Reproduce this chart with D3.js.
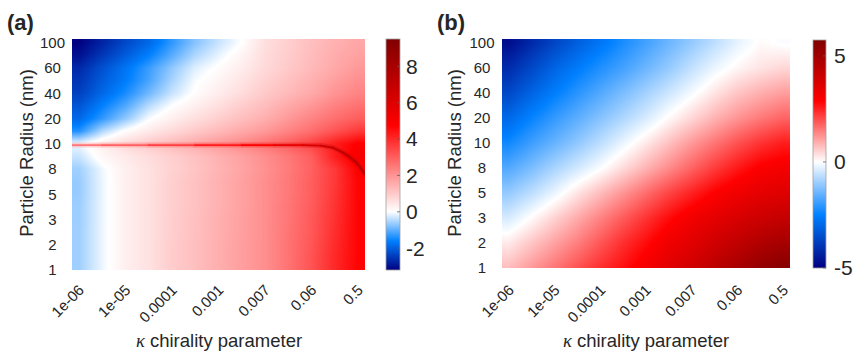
<!DOCTYPE html>
<html lang="en">
<head>
<meta charset="UTF-8">
<title>Chirality maps</title>
<script src="https://d3js.org/d3.v7.min.js"></script>
<style>
  body { margin: 0; background: #fff; }
  svg text { font-family: "Liberation Sans", Arial, sans-serif; fill: #262626; }
</style>
</head>
<body>
<svg id="chart" width="857" height="355"></svg>
<script>
// tick labels
const kappaLabels = ["1e-06", "1e-05", "0.0001", "0.001", "0.007", "0.06", "0.5"];
const radiusLabels = ["1", "2", "3", "5", "8", "10", "20", "40", "60", "100"];

// grid positions, in tick-index units (columns = kappa ticks, rows = radius ticks)
const colSteps = [0, 0.5, 1, 1.5, 2, 2.5, 3, 3.5, 4, 4.5, 5, 5.5, 6];
const rowStepsA = [9, 8.5, 8, 7.5, 7, 6.5, 6, 5.5, 5, 4.5, 4, 3.5, 3, 2.5, 2, 1.5, 1, 0.5, 0];
const rowStepsB = [9, 8, 7, 6, 5, 4, 3, 2, 1, 0];

// panel (a) values, top row (100 nm) first
const heatA = [
  [-3.2, -2.75, -2.3, -1.9, -1.3, -0.75, -0.35, 0.0, 0.6, 0.9, 1.2, 1.45, 1.65],
  [-3.0, -2.5, -2.05, -1.6, -1.05, -0.5, -0.15, 0.2, 0.65, 0.95, 1.25, 1.55, 1.75],
  [-2.7, -2.2, -1.75, -1.25, -0.7, -0.2, 0.05, 0.35, 0.7, 1.0, 1.3, 1.6, 1.9],
  [-2.55, -2.05, -1.65, -1.15, -0.55, -0.05, 0.2, 0.5, 0.85, 1.15, 1.45, 1.8, 2.1],
  [-2.4, -1.9, -1.45, -0.9, -0.35, 0.05, 0.35, 0.65, 1.0, 1.3, 1.6, 2.0, 2.3],
  [-2.15, -1.6, -1.1, -0.45, 0.0, 0.3, 0.6, 0.95, 1.25, 1.6, 1.95, 2.35, 2.65],
  [-1.9, -1.3, -0.7, -0.05, 0.3, 0.6, 0.9, 1.2, 1.5, 1.9, 2.3, 2.7, 3.0],
  [-1.4, -0.5, 0.05, 0.4, 0.7, 1.0, 1.3, 1.6, 1.9, 2.3, 2.7, 3.2, 3.7],
  [-0.1, 0.3, 0.7, 1.0, 1.3, 1.6, 1.9, 2.2, 2.6, 3.0, 3.5, 4.2, 4.8],
  [-0.35, 0.15, 0.4, 0.65, 0.9, 1.15, 1.45, 1.75, 2.1, 2.5, 3.0, 4.2, 5.1],
  [-0.6, -0.1, 0.3, 0.55, 0.85, 1.1, 1.4, 1.7, 2.05, 2.45, 2.95, 3.7, 4.8],
  [-0.65, -0.12, 0.3, 0.55, 0.9, 1.15, 1.45, 1.75, 2.1, 2.5, 3.0, 3.7, 4.7],
  [-0.65, -0.12, 0.3, 0.55, 0.9, 1.15, 1.45, 1.75, 2.1, 2.5, 3.0, 3.75, 4.7],
  [-0.62, -0.12, 0.3, 0.55, 0.9, 1.15, 1.45, 1.75, 2.1, 2.55, 3.05, 3.8, 4.7],
  [-0.62, -0.12, 0.3, 0.55, 0.92, 1.18, 1.48, 1.78, 2.1, 2.55, 3.1, 3.85, 4.7],
  [-0.6, -0.12, 0.3, 0.55, 0.92, 1.18, 1.48, 1.78, 2.1, 2.58, 3.1, 3.9, 4.7],
  [-0.6, -0.12, 0.3, 0.55, 0.95, 1.2, 1.5, 1.8, 2.1, 2.6, 3.15, 3.95, 4.7],
  [-0.6, -0.12, 0.3, 0.55, 0.95, 1.2, 1.5, 1.8, 2.1, 2.6, 3.2, 4.0, 4.7],
  [-0.6, -0.12, 0.3, 0.55, 0.95, 1.2, 1.5, 1.8, 2.1, 2.6, 3.2, 4.0, 4.7]
];

// panel (b) values, top row (100 nm) first
const heatB = [
  [-4.75, -4.2, -3.65, -3.15, -2.7, -2.25, -1.85, -1.45, -1.05, -0.65, -0.25, 0.05, -0.05],
  [-4.15, -3.6, -3.05, -2.6, -2.2, -1.85, -1.45, -1.05, -0.6, -0.2, 0.1, 0.3, 0.45],
  [-3.6, -3.05, -2.55, -2.1, -1.7, -1.3, -0.9, -0.5, -0.1, 0.3, 0.65, 0.9, 1.1],
  [-2.95, -2.45, -2.0, -1.6, -1.2, -0.8, -0.4, 0.05, 0.45, 0.85, 1.2, 1.5, 1.75],
  [-2.35, -1.9, -1.5, -1.1, -0.65, -0.2, 0.25, 0.7, 1.15, 1.55, 1.95, 2.3, 2.55],
  [-1.7, -1.3, -0.85, -0.45, -0.05, 0.4, 0.85, 1.3, 1.75, 2.2, 2.6, 2.95, 3.1],
  [-1.05, -0.65, -0.2, 0.3, 0.75, 1.2, 1.65, 2.1, 2.5, 2.9, 3.2, 3.45, 3.6],
  [-0.4, 0.05, 0.5, 0.95, 1.4, 1.85, 2.3, 2.75, 3.15, 3.45, 3.75, 4.0, 4.2],
  [0.25, 0.65, 1.05, 1.45, 1.9, 2.35, 2.75, 3.2, 3.55, 3.95, 4.3, 4.65, 4.9],
  [0.75, 1.15, 1.55, 1.95, 2.35, 2.7, 3.1, 3.55, 3.95, 4.4, 4.85, 5.3, 5.6]
];

// sharp resonance ridge near 10 nm in panel (a)
const ridgeU = [-0.15, 0.5, 1.5, 2.5, 3.5, 4.2, 4.8, 5.2, 5.45, 5.65, 5.8, 5.95, 6.05, 6.15];
const ridgeV = [4.95, 4.95, 4.95, 4.95, 4.95, 4.95, 4.95, 4.93, 4.85, 4.68, 4.5, 4.28, 4.05, 3.8];
const ridgeVal = [2.4, 2.7, 3.2, 3.9, 4.6, 5.3, 5.9, 6.4, 6.9, 7.2, 7.4, 7.5, 7.6, 7.6];

// colour limits and colorbar ticks
const rangeA = [-3.2, 9.5];
const rangeB = [-5, 5.75];
const cbTicksA = [-2, 0, 2, 4, 6, 8];
const cbTicksB = [-5, 0, 5];

const svg = d3.select("#chart");
const defs = svg.append("defs");

// blue-white-red map, white pinned at zero
function makeColor(range) {
  const lo = range[0], hi = range[1];
  return d3.scaleLinear()
    .domain([lo, lo / 2, 0, hi / 2, hi])
    .range(["#000080", "#0080ff", "#ffffff", "#ff0000", "#800000"])
    .clamp(true);
}

// bilinear lookup in a grid (rows top->bottom), like shading interp
function sampler(heat, cols, rows) {
  const fc = d3.scaleLinear().domain([cols[0], cols[cols.length - 1]]).range([0, cols.length - 1]).clamp(true);
  const fr = d3.scaleLinear().domain([rows[0], rows[rows.length - 1]]).range([0, rows.length - 1]).clamp(true);
  return (u, v) => {
    const a = fc(u), b = fr(v);
    const i = Math.min(Math.floor(a), cols.length - 2), j = Math.min(Math.floor(b), rows.length - 2);
    const s = a - i, t = b - j;
    const top = heat[j][i] * (1 - s) + heat[j][i + 1] * s;
    const bot = heat[j + 1][i] * (1 - s) + heat[j + 1][i + 1] * s;
    return top * (1 - t) + bot * t;
  };
}

function drawPanel(p) {
  const x = d3.scaleLinear().domain([-0.15, 6.15]).range([p.x0, p.x1]);
  const y = d3.scaleLinear().domain([0, 9.15]).range([p.y1, p.y0]);
  const color = makeColor(p.range);
  const g = svg.append("g");
  const W = p.x1 - p.x0, H = p.y1 - p.y0;

  defs.append("clipPath").attr("id", "clip-" + p.id)
    .append("rect")
    .attr("x", p.x0).attr("y", p.y0).attr("width", W).attr("height", H);

  // raster of the field
  const look = sampler(p.heat, colSteps, p.rows);
  const cv = document.createElement("canvas");
  cv.width = W; cv.height = H;
  const ctx = cv.getContext("2d");
  const im = ctx.createImageData(W, H);
  for (let py = 0; py < H; py++) {
    const v = y.invert(p.y0 + py + 0.5);
    for (let px = 0; px < W; px++) {
      const u = x.invert(p.x0 + px + 0.5);
      const c = d3.rgb(color(look(u, v)));
      const k = 4 * (py * W + px);
      im.data[k] = c.r; im.data[k + 1] = c.g; im.data[k + 2] = c.b; im.data[k + 3] = 255;
    }
  }
  ctx.putImageData(im, 0, 0);

  const hm = g.append("g").attr("clip-path", `url(#clip-${p.id})`);
  hm.append("image")
    .attr("href", cv.toDataURL())
    .attr("x", p.x0).attr("y", p.y0)
    .attr("width", W).attr("height", H)
    .attr("preserveAspectRatio", "none");

  if (p.ridge) {
    const pts = p.ridge.u.map((u, i) => ({ u: u, v: p.ridge.v[i], val: p.ridge.val[i] }));
    const segs = d3.pairs(pts);
    const halo = hm.append("g").attr("opacity", 0.3);
    halo.selectAll("line").data(segs).enter().append("line")
      .attr("x1", d => x(d[0].u)).attr("y1", d => y(d[0].v))
      .attr("x2", d => x(d[1].u)).attr("y2", d => y(d[1].v))
      .attr("stroke", d => color((d[0].val + d[1].val) / 2))
      .attr("stroke-width", 5).attr("stroke-linecap", "round");
    hm.append("g").selectAll("line").data(segs).enter().append("line")
      .attr("x1", d => x(d[0].u)).attr("y1", d => y(d[0].v))
      .attr("x2", d => x(d[1].u)).attr("y2", d => y(d[1].v))
      .attr("stroke", d => color((d[0].val + d[1].val) / 2))
      .attr("stroke-width", 1.8).attr("stroke-linecap", "round");
  }

  // y tick labels
  g.selectAll(".ylab").data(radiusLabels).enter().append("text")
    .attr("x", p.yLabelX).attr("y", (d, k) => y(k))
    .attr("dy", "0.35em").attr("text-anchor", "middle")
    .attr("font-size", 15).text(d => d);

  // x tick labels, rotated
  g.selectAll(".xlab").data(kappaLabels).enter().append("text")
    .attr("transform", (d, i) => `translate(${x(i) + 6},291) rotate(-45)`)
    .attr("text-anchor", "end").attr("font-size", 15).text(d => d);

  // axis titles
  const xt = g.append("text").attr("x", p.xTitleX).attr("y", 347)
    .attr("text-anchor", "middle").attr("font-size", 18.5);
  xt.append("tspan").style("font-family", "'Liberation Serif', serif")
    .attr("font-style", "italic").text("\u03ba");
  xt.append("tspan").text(" chirality parameter");

  g.append("text")
    .attr("transform", `translate(${p.yTitleX},153) rotate(-90)`)
    .attr("text-anchor", "middle").attr("dy", "0.35em")
    .attr("font-size", 18.5).text("Particle Radius (nm)");

  // panel letter
  g.append("text").attr("x", p.tagX).attr("y", 30)
    .attr("font-size", 22).attr("font-weight", "bold").text(p.tag);

  // colorbar
  const cy = d3.scaleLinear().domain(p.range).range([p.cb.y1, p.cb.y0]);
  const grad = defs.append("linearGradient").attr("id", "grad-" + p.id)
    .attr("x1", 0).attr("y1", 1).attr("x2", 0).attr("y2", 0);
  grad.selectAll("stop").data(color.domain()).enter().append("stop")
    .attr("offset", d => (d - p.range[0]) / (p.range[1] - p.range[0]))
    .attr("stop-color", d => color(d));
  g.append("rect")
    .attr("x", p.cb.x).attr("y", p.cb.y0)
    .attr("width", p.cb.w).attr("height", p.cb.y1 - p.cb.y0)
    .attr("fill", `url(#grad-${p.id})`)
    .attr("stroke", "#a0a0a0").attr("stroke-width", 0.8);
  g.selectAll(".cbtick").data(p.cbTicks).enter().append("line")
    .attr("x1", p.cb.x + p.cb.w - 3).attr("x2", p.cb.x + p.cb.w)
    .attr("y1", d => cy(d)).attr("y2", d => cy(d))
    .attr("stroke", "#606060").attr("stroke-width", 0.8);
  g.selectAll(".cblab").data(p.cbTicks).enter().append("text")
    .attr("x", p.cbLabelX).attr("y", d => cy(d)).attr("dy", "0.35em")
    .attr("font-size", 21).text(d => d);
}

drawPanel({
  id: "a", tag: "(a)", tagX: 7,
  x0: 72, x1: 365, y0: 39, y1: 270,
  rows: rowStepsA, heat: heatA, range: rangeA, cbTicks: cbTicksA,
  ridge: { u: ridgeU, v: ridgeV, val: ridgeVal },
  yLabelX: 52.5, yTitleX: 27, xTitleX: 219,
  cb: { x: 386, w: 14, y0: 39, y1: 270 }, cbLabelX: 406
});

drawPanel({
  id: "b", tag: "(b)", tagX: 437,
  x0: 502, x1: 790, y0: 39, y1: 268,
  rows: rowStepsB, heat: heatB, range: rangeB, cbTicks: cbTicksB,
  ridge: null,
  yLabelX: 482, yTitleX: 455, xTitleX: 646,
  cb: { x: 813, w: 13, y0: 40, y1: 268 }, cbLabelX: 834
});
</script>
</body>
</html>
